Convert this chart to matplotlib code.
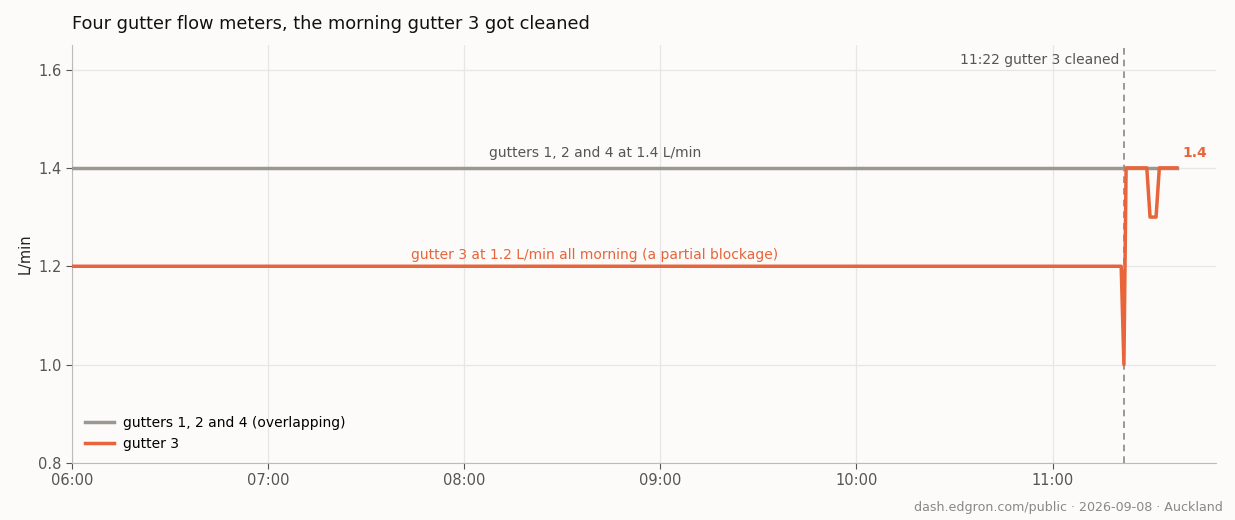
import matplotlib
matplotlib.use("Agg")
import matplotlib.pyplot as plt
import matplotlib.dates as mdates
import pandas as pd

plt.rcParams["font.family"] = ["DejaVu Sans"]

DAY = "2026-09-08 "

# gutters 1, 2 and 4 read the same all morning
g124_times = ["06:00", "11:38"]
g124_vals = [1.4, 1.4]

# gutter 3: partial blockage, then cleaned at 11:22
g3_times = ["06:00", "11:21:00", "11:21:50", "11:22:30", "11:28:50",
            "11:29:50", "11:31:40", "11:32:40", "11:38"]
g3_vals = [1.2, 1.2, 1.0, 1.4, 1.4, 1.3, 1.3, 1.4, 1.4]

cleaned_at = "11:22"
x_range = ["06:00", "11:50"]
x_ticks = ["06:00", "07:00", "08:00", "09:00", "10:00", "11:00"]

BG = "#fcfbf9"
GREY = "#9a9890"
ORANGE = "#e8643a"
TXT = "#555555"


def t(s):
    return pd.Timestamp(DAY + s)


fig = plt.figure(figsize=(12.35, 5.2), dpi=100, facecolor=BG)
ax = fig.add_axes([0.0583, 0.1096, 0.9263, 0.804], facecolor=BG)

ax.plot([t(s) for s in g124_times], g124_vals, color=GREY, lw=2.5,
        label="gutters 1, 2 and 4 (overlapping)", zorder=3)
ax.plot([t(s) for s in g3_times], g3_vals, color=ORANGE, lw=2.5,
        label="gutter 3", zorder=4)

ax.axvline(t(cleaned_at), color="#888888", lw=1.2, ls=(0, (4, 3)), zorder=2)
ax.text(t("11:20:30"), 1.619, "11:22 gutter 3 cleaned", ha="right", va="center",
        fontsize=10, color=TXT)

ax.text(t("08:40"), 1.43, "gutters 1, 2 and 4 at 1.4 L/min", ha="center",
        va="center", fontsize=10, color=TXT)
ax.text(t("08:40"), 1.222, "gutter 3 at 1.2 L/min all morning (a partial blockage)",
        ha="center", va="center", fontsize=10, color=ORANGE)
ax.text(t("11:39:40"), 1.43, "1.4", ha="left", va="center", fontsize=10,
        color=ORANGE, fontweight="bold")

ax.set_xlim(t(x_range[0]), t(x_range[1]))
ax.set_ylim(0.8, 1.65)
ax.set_xticks([t(s) for s in x_ticks])
ax.xaxis.set_major_formatter(mdates.DateFormatter("%H:%M"))
ax.set_yticks([0.8, 1.0, 1.2, 1.4, 1.6])
ax.set_ylabel("L/min", fontsize=10.5, color="#222222")

ax.grid(True, color="#e6e6e6", lw=0.9)
ax.set_axisbelow(True)
for side in ("top", "right"):
    ax.spines[side].set_visible(False)
for side in ("left", "bottom"):
    ax.spines[side].set_color("#bbbbbb")
ax.tick_params(labelsize=10.5, colors=TXT, length=4)
ax.tick_params(axis="both", color="#555555")

ax.legend(loc="lower left", frameon=False, fontsize=10, bbox_to_anchor=(0.0, 0.0),
          handlelength=2.1, handletextpad=0.7)

fig.text(0.0583, 0.953, "Four gutter flow meters, the morning gutter 3 got cleaned",
         ha="left", va="center", fontsize=12.8, color="#111111")
fig.text(0.99, 0.025, "dash.edgron.com/public \u00b7 2026-09-08 \u00b7 Auckland",
         ha="right", va="center", fontsize=9.1, color="#888888")

fig.savefig("out.png", dpi=100, facecolor=BG)
